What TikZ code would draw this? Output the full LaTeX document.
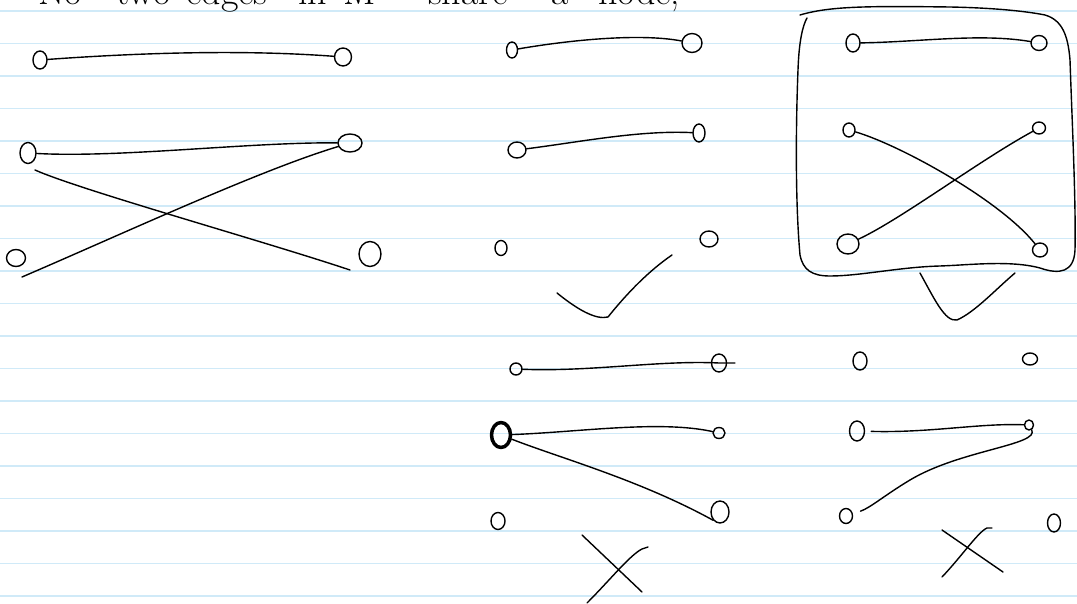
\documentclass[tikz,border=0pt]{standalone}
\usetikzlibrary{shapes.geometric}
\definecolor{rulecol}{RGB}{208,234,248}
\begin{document}
\begin{tikzpicture}[x=1pt,y=-1pt,line cap=round,line join=round,
  ink/.style={draw=black,line width=1.4pt},
  vtx/.style={ink,ellipse,inner sep=0pt,minimum width=13pt,minimum height=16pt},
  ruling/.style={draw=rulecol,line width=1.6pt},
  word/.style={anchor=base west,inner sep=0pt,font=\fontsize{38}{40}\selectfont}]
\useasboundingbox (0,0) rectangle (1077,604);
\clip (0,0) rectangle (1077,604);
\fill[white] (0,0) rectangle (1077,604);
\foreach \i in {0,...,18} \draw[ruling] (0,11+32.5*\i) -- (1077,11+32.5*\i);

% heading, cut off at the top edge as in the reference
\node[word] (w1) at (38,5) {No};
\node[word] (w2) at (116,5) {two};
\node[word] (w3) at (186,5) {edges};
\node[word] (w4) at (298,5) {in};
\node[word] (w5) at (343,5) {M};
\node[word] (w6) at (428,5) {share};
\node[word] (w7) at (551,5) {a};
\node[word] (w8) at (598,5) {node;};

% ---------- left group ----------
\node[vtx,minimum width=14pt,minimum height=18pt] (l1) at (40,60) {};
\node[vtx,minimum width=17pt,minimum height=18pt] (l2) at (343,57) {};
\draw[ink] (l1) .. controls (150,52) and (250,50) .. (l2);
\node[vtx,minimum width=16pt,minimum height=21pt] (l3) at (28,153) {};
\node[vtx,minimum width=24pt,minimum height=18pt] (l4) at (350,143) {};
\draw[ink] (l3) .. controls (120,158) and (250,142) .. (l4);
\node[vtx,minimum width=19pt,minimum height=17pt] (l5) at (16,258) {};
\node[vtx,minimum width=22pt,minimum height=25pt] (l6) at (370,254) {};
\coordinate (e1) at (22,277);
\coordinate (e2) at (35,170);
\coordinate (e3) at (350,270);
\draw[ink] (l4) .. controls (260,170) and (120,235) .. (e1);
\draw[ink] (e2) .. controls (80,190) and (260,240) .. (e3);

% ---------- middle group ----------
\node[vtx,minimum width=11pt,minimum height=16pt] (m1) at (512,50) {};
\node[vtx,minimum width=20pt,minimum height=19pt] (m2) at (692,43) {};
\draw[ink] (m1) .. controls (570,40) and (640,33) .. (m2);
\node[vtx,minimum width=18pt,minimum height=16pt] (m3) at (517,150) {};
\node[vtx,minimum width=12pt,minimum height=18pt] (m4) at (699,133) {};
\draw[ink] (m3) .. controls (580,142) and (640,130) .. (m4);
\node[vtx,minimum width=12pt,minimum height=15pt] (m5) at (501,248) {};
\node[vtx,minimum width=18pt,minimum height=16pt] (m6) at (709,239) {};
\draw[ink] (557,293) .. controls (578,310) and (596,320) .. (608,317)
           .. controls (628,292) and (650,270) .. (672,255);

% ---------- boxed group ----------
\draw[ink] (800,15) .. controls (830,6) and (870,6) .. (950,7)
  .. controls (1000,8) and (1030,12) .. (1045,15)
  .. controls (1062,20) and (1068,35) .. (1070,60)
  .. controls (1072,120) and (1076,200) .. (1075,250)
  .. controls (1074,272) and (1060,275) .. (1040,268)
  .. controls (1010,260) and (970,265) .. (940,266)
  .. controls (900,267) and (860,276) .. (830,276)
  .. controls (812,276) and (803,270) .. (800,255)
  .. controls (795,200) and (796,120) .. (798,70)
  .. controls (799,40) and (803,25) .. (807,18);
\node[vtx,minimum width=14pt,minimum height=18pt] (b1) at (853,43) {};
\node[vtx,minimum width=16pt,minimum height=15pt] (b2) at (1039,43) {};
\draw[ink] (b1) .. controls (920,42) and (980,33) .. (b2);
\node[vtx,minimum width=12pt,minimum height=14pt] (b3) at (849,130) {};
\node[vtx,minimum width=13pt,minimum height=12pt] (b4) at (1039,128) {};
\node[vtx,minimum width=22pt,minimum height=20pt] (b5) at (848,244) {};
\node[vtx,minimum width=15pt,minimum height=14pt] (b6) at (1040,250) {};
\draw[ink] (b3) .. controls (900,145) and (1000,200) .. (b6);
\draw[ink] (b4) .. controls (980,160) and (900,220) .. (b5);
\draw[ink] (920,273) .. controls (935,300) and (945,322) .. (957,320)
           .. controls (975,312) and (995,290) .. (1015,273);

% ---------- bottom middle ----------
\node[vtx,minimum width=12pt,minimum height=12pt] (n1) at (516,369) {};
\node[vtx,minimum width=15pt,minimum height=18pt] (n2) at (719,363) {};
\coordinate (t1) at (735,363);
\draw[ink] (n1) .. controls (590,372) and (660,360) .. (n2.center) -- (t1);
\node[vtx,line width=3.5pt,minimum width=19pt,minimum height=25pt] (n3) at (501,435) {};
\node[vtx,minimum width=12pt,minimum height=11pt] (n4) at (719,433) {};
\draw[ink] (n3) .. controls (580,432) and (660,420) .. (n4);
\node[vtx,minimum width=18pt,minimum height=22pt] (n5) at (720,512) {};
\draw[ink] (n3) .. controls (560,458) and (640,480) .. (n5.south west);
\node[vtx,minimum width=14pt,minimum height=17pt] (n6) at (498,521) {};
\draw[ink] (582,535) -- (642,592);
\draw[ink] (587,603) .. controls (610,580) and (630,555) .. (642,549) -- (648,547);

% ---------- bottom right ----------
\node[vtx,minimum width=14pt,minimum height=18pt] (r1) at (860,361) {};
\node[vtx,minimum width=15pt,minimum height=12pt] (r2) at (1030,359) {};
\node[vtx,minimum width=15pt,minimum height=20pt] (r3) at (857,431) {};
\node[vtx,minimum width=9pt,minimum height=10pt] (r4) at (1029,425) {};
\draw[ink,shorten <=6pt] (r3) .. controls (930,433) and (980,423) .. (r4);
\node[vtx,minimum width=13pt,minimum height=15pt] (r5) at (846,516) {};
\draw[ink,shorten >=8pt] (r4) .. controls (1040,445) and (960,450) .. (910,480)
     .. controls (885,495) and (870,508) .. (r5);
\node[vtx,minimum width=13pt,minimum height=18pt] (r6) at (1054,523) {};
\draw[ink] (942,530) -- (1003,572);
\draw[ink] (942,577) .. controls (962,556) and (978,532) .. (987,528) -- (992,528);
\end{tikzpicture}
\end{document}
